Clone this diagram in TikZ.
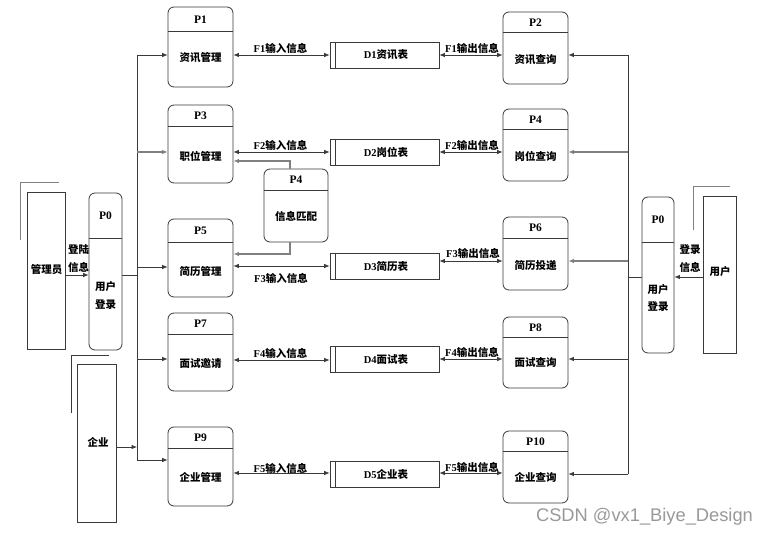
\documentclass[tikz,border=0pt]{standalone}
\usepackage{fontspec}
\setmainfont{Liberation Serif}
\newfontfamily\cjkf{Noto Sans CJK SC}
\newfontfamily\wmf{Liberation Sans}
\usetikzlibrary{arrows.meta}
\definecolor{edge}{HTML}{3A3A3A}
\definecolor{lgray}{HTML}{808080}
\newcommand\zh[1]{{\cjkf\bfseries #1}}
\newcommand\lat[1]{{\bfseries #1}}
\begin{document}
\begin{tikzpicture}[x=1pt,y=-1pt,
 box/.style={draw=edge, line width=0.8pt, rounded corners=6pt, inner sep=0pt},
 store/.style={draw=edge, line width=0.8pt, inner sep=0pt, minimum width=109pt, minimum height=26pt},
 ent/.style={draw=edge, line width=0.8pt, inner sep=0pt},
 txt/.style={inner sep=0pt, font=\fontsize{10.5}{12}\selectfont},
 lab/.style={inner sep=0pt, font=\fontsize{11.5}{13}\selectfont},
 tip/.tip={Latex[length=5.5pt,width=4.5pt]},
 arr/.style={draw=edge, line width=0.7pt, -tip},
 garr/.style={draw=lgray, line width=1.2pt, -tip},
 dbl/.style={draw=edge, line width=0.7pt, tip-tip},
 ln/.style={draw=edge, line width=0.7pt},
]
\useasboundingbox (0,0) rectangle (768,537);
\fill[white] (0,0) rectangle (768,537);

% ---------- left processes ----------
\node[box, minimum width=65pt, minimum height=80pt] (P1) at (200.5,47) {};
\draw[ln] ([yshift=-25pt]P1.north west) -- ([yshift=-25pt]P1.north east);
\node[lab] (P1l) at (200.5,19.5) {\lat{P1}};
\node[txt] (P1t) at (200.5,58) {\zh{资讯管理}};

\node[box, minimum width=65pt, minimum height=78pt] (P3) at (200.5,144) {};
\draw[ln] ([yshift=-22pt]P3.north west) -- ([yshift=-22pt]P3.north east);
\node[lab] (P3l) at (200.5,116) {\lat{P3}};
\node[txt] (P3t) at (200.5,156) {\zh{职位管理}};

\node[box, minimum width=65pt, minimum height=78pt] (P5) at (200.5,258) {};
\draw[ln] ([yshift=-24pt]P5.north west) -- ([yshift=-24pt]P5.north east);
\node[lab] (P5l) at (200.5,231) {\lat{P5}};
\node[txt] (P5t) at (200.5,271) {\zh{简历管理}};

\node[box, minimum width=65pt, minimum height=78pt] (P7) at (200.5,352) {};
\draw[ln] ([yshift=-22pt]P7.north west) -- ([yshift=-22pt]P7.north east);
\node[lab] (P7l) at (200.5,324) {\lat{P7}};
\node[txt] (P7t) at (200.5,364) {\zh{面试邀请}};

\node[box, minimum width=65pt, minimum height=79pt] (P9) at (200.5,466.5) {};
\draw[ln] ([yshift=-22pt]P9.north west) -- ([yshift=-22pt]P9.north east);
\node[lab] (P9l) at (200.5,438) {\lat{P9}};
\node[txt] (P9t) at (200.5,477) {\zh{企业管理}};

% ---------- right processes ----------
\node[box, minimum width=65pt, minimum height=72pt] (P2) at (535.5,48) {};
\draw[ln] ([yshift=-21pt]P2.north west) -- ([yshift=-21pt]P2.north east);
\node[lab] (P2l) at (535.5,22.5) {\lat{P2}};
\node[txt] (P2t) at (535.5,60) {\zh{资讯查询}};

\node[box, minimum width=65pt, minimum height=72pt] (P4r) at (535.5,145) {};
\draw[ln] ([yshift=-21pt]P4r.north west) -- ([yshift=-21pt]P4r.north east);
\node[lab] (P4rl) at (535.5,119.5) {\lat{P4}};
\node[txt] (P4rt) at (535.5,156) {\zh{岗位查询}};

\node[box, minimum width=65pt, minimum height=73pt] (P6) at (535.5,253.5) {};
\draw[ln] ([yshift=-22pt]P6.north west) -- ([yshift=-22pt]P6.north east);
\node[lab] (P6l) at (535.5,228) {\lat{P6}};
\node[txt] (P6t) at (535.5,265) {\zh{简历投递}};

\node[box, minimum width=65pt, minimum height=71pt] (P8) at (535.5,352.5) {};
\draw[ln] ([yshift=-21pt]P8.north west) -- ([yshift=-21pt]P8.north east);
\node[lab] (P8l) at (535.5,327.5) {\lat{P8}};
\node[txt] (P8t) at (535.5,363) {\zh{面试查询}};

\node[box, minimum width=65pt, minimum height=72pt] (P10) at (535.5,467) {};
\draw[ln] ([yshift=-21pt]P10.north west) -- ([yshift=-21pt]P10.north east);
\node[lab] (P10l) at (535.5,441.5) {\lat{P10}};
\node[txt] (P10t) at (535.5,477) {\zh{企业查询}};

% ---------- middle P4 ----------
\node[box, minimum width=64pt, minimum height=73pt] (P4) at (296,205.5) {};
\draw[ln] ([yshift=-22pt]P4.north west) -- ([yshift=-22pt]P4.north east);
\node[lab] (P4l) at (296,180) {\lat{P4}};
\node[txt] (P4t) at (296,216) {\zh{信息匹配}};

% ---------- data stores ----------
\node[store] (D1) at (384.5,55) {};
\draw[ln] ([xshift=6pt]D1.north west) -- ([xshift=6pt]D1.south west);
\node[txt] (D1t) at (386,55) {\lat{D1}\zh{资讯表}};
\node[store] (D2) at (384.5,152) {};
\draw[ln] ([xshift=6pt]D2.north west) -- ([xshift=6pt]D2.south west);
\node[txt] (D2t) at (386,152) {\lat{D2}\zh{岗位表}};
\node[store] (D3) at (384.5,266) {};
\draw[ln] ([xshift=6pt]D3.north west) -- ([xshift=6pt]D3.south west);
\node[txt] (D3t) at (386,266) {\lat{D3}\zh{简历表}};
\node[store] (D4) at (384.5,359.5) {};
\draw[ln] ([xshift=6pt]D4.north west) -- ([xshift=6pt]D4.south west);
\node[txt] (D4t) at (386,359.5) {\lat{D4}\zh{面试表}};
\node[store] (D5) at (384.5,474) {};
\draw[ln] ([xshift=6pt]D5.north west) -- ([xshift=6pt]D5.south west);
\node[txt] (D5t) at (386,474) {\lat{D5}\zh{企业表}};

% ---------- P0 boxes ----------
\node[box, minimum width=33pt, minimum height=157pt] (P0L) at (105.5,271.5) {};
\draw[ln, line width=1.2pt] ([yshift=-46pt]P0L.north west) -- ([yshift=-46pt]P0L.north east);
\node[lab] (P0Ll) at (105.5,216) {\lat{P0}};
\node[txt] (P0Lt1) at (105.5,287) {\zh{用户}};
\node[txt] (P0Lt2) at (105.5,305) {\zh{登录}};

\node[box, minimum width=32pt, minimum height=156pt] (P0R) at (658,275) {};
\draw[ln, line width=1.2pt] ([yshift=-46pt]P0R.north west) -- ([yshift=-46pt]P0R.north east);
\node[lab] (P0Rl) at (658,220) {\lat{P0}};
\node[txt] (P0Rt1) at (658,290) {\zh{用户}};
\node[txt] (P0Rt2) at (658,307) {\zh{登录}};

% ---------- external entities ----------
\node[ent, minimum width=38pt, minimum height=157pt] (adm) at (46,270.5) {};
\draw[ln, draw=lgray, line width=1pt] (20,240) -- (20,183) -- (59,183);
\node[txt] (admt) at (46.5,270) {\zh{管理员}};

\node[ent, minimum width=33pt, minimum height=157pt] (usr) at (719.5,274.5) {};
\draw[ln, draw=lgray, line width=1pt] (693,230) -- (693,187) -- (730,187);
\node[txt] (usrt) at (720,272) {\zh{用户}};

\node[ent, minimum width=39pt, minimum height=158pt] (qy) at (96.5,443) {};
\draw[ln] (71,413) -- (71,355) -- (109,355);
\node[txt] (qyt) at (98,442) {\zh{企业}};

% ---------- buses ----------
\coordinate (lb) at (137,0);
\coordinate (rb) at (628,0);
\draw[ln] (lb|-0,55) -- (lb|-0,460);
\draw[arr] (lb|-0,55) -- (P1.west|-0,55);
\draw[garr] (lb|-0,152) -- (P3.west|-0,152);
\draw[arr] (lb|-0,267) -- (P5.west|-0,267);
\draw[arr] (lb|-0,359) -- (P7.west|-0,359);
\draw[arr] (lb|-0,460) -- (P9.west|-0,460);
\draw[ln] (P0L.east|-0,275) -- (lb|-0,275);
\draw[arr] (qy.east|-0,447) -- (lb|-0,447);
\draw[arr] (adm.east|-0,275) -- (P0L.west|-0,275);
\node[txt] (dl1) at (78.5,250) {\zh{登陆}};
\node[txt] (dl2) at (78.5,267) {\zh{信息}};

\draw[ln] (rb|-0,55) -- (rb|-0,474);
\draw[arr] (rb|-0,55) -- (P2.east|-0,55);
\draw[garr] (rb|-0,152) -- (P4r.east|-0,152);
\draw[garr] (rb|-0,261) -- (P6.east|-0,261);
\draw[arr] (rb|-0,359) -- (P8.east|-0,359);
\draw[arr] (rb|-0,474) -- (P10.east|-0,474);
\draw[ln] (P0R.west|-0,277) -- (rb|-0,277);
\draw[arr] (usr.west|-0,277) -- (P0R.east|-0,277);
\node[txt] (dr1) at (690,250) {\zh{登录}};
\node[txt] (dr2) at (690,267) {\zh{信息}};

% ---------- data flows ----------
\draw[dbl] (P1.east|-0,55) -- (D1.west|-0,55);
\draw[dbl] (D1.east|-0,55) -- (P2.west|-0,55);
\node[txt] (f1i) at (280.5,48) {\lat{F1}\zh{输入信息}};
\node[txt] (f1o) at (472,48) {\lat{F1}\zh{输出信息}};

\draw[dbl] (P3.east|-0,152) -- (D2.west|-0,152);
\draw[dbl] (D2.east|-0,152) -- (P4r.west|-0,152);
\node[txt] (f2i) at (280.5,145) {\lat{F2}\zh{输入信息}};
\node[txt] (f2o) at (472,145) {\lat{F2}\zh{输出信息}};

\draw[dbl] (P5.east|-0,266) -- (D3.west|-0,266);
\draw[dbl] (D3.east|-0,261) -- (P6.west|-0,261);
\node[txt] (f3i) at (281,278) {\lat{F3}\zh{输入信息}};
\node[txt] (f3o) at (473,253) {\lat{F3}\zh{输出信息}};

\draw[dbl] (P7.east|-0,360) -- (D4.west|-0,360);
\draw[dbl] (D4.east|-0,359) -- (P8.west|-0,359);
\node[txt] (f4i) at (280.5,353) {\lat{F4}\zh{输入信息}};
\node[txt] (f4o) at (472,352) {\lat{F4}\zh{输出信息}};

\draw[dbl] (P9.east|-0,473) -- (D5.west|-0,473);
\draw[dbl] (D5.east|-0,473) -- (P10.west|-0,473);
\node[txt] (f5i) at (280.5,468) {\lat{F5}\zh{输入信息}};
\node[txt] (f5o) at (472,467) {\lat{F5}\zh{输出信息}};

% ---------- P4 links ----------
\coordinate (p4a) at ([xshift=-6pt]P4.north);
\coordinate (p4b) at ([xshift=-6pt]P4.south);
\draw[draw=lgray, line width=1.2pt, -tip] (p4a) -- (p4a|-0,161) -- (P3.east|-0,161);
\draw[draw=lgray, line width=1.2pt, -tip] (p4b) -- (p4b|-0,254) -- (P5.east|-0,254);

% ---------- watermark ----------
\node[inner sep=0pt, text=black!40, font=\wmf\fontsize{18.3}{20}\selectfont] (wm) at (644.5,517) {CSDN @vx1\_Biye\_Design};
\end{tikzpicture}
\end{document}
